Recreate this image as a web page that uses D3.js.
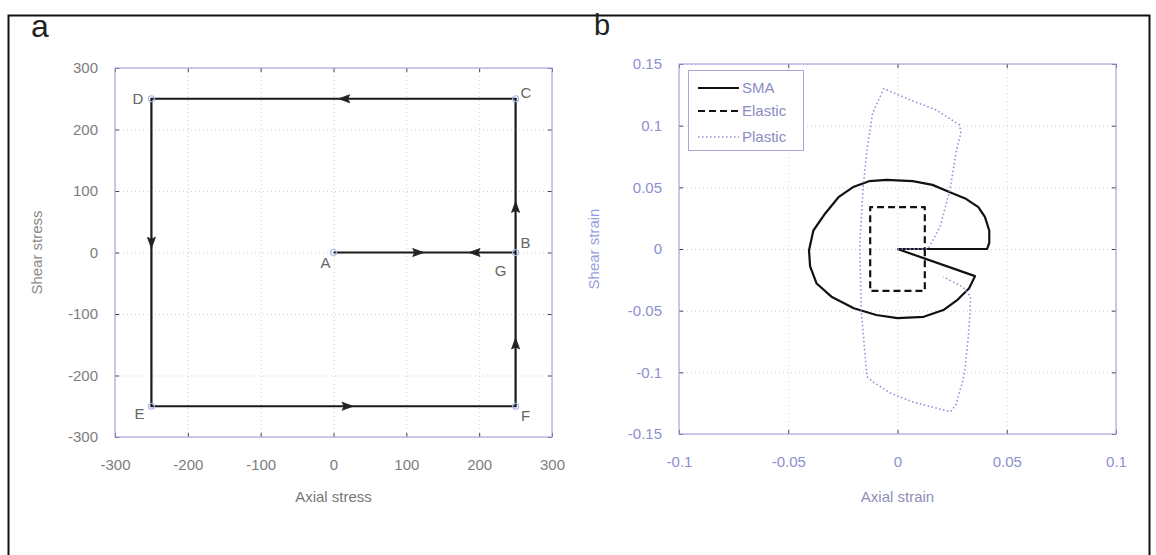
<!DOCTYPE html>
<html>
<head>
<meta charset="utf-8">
<script src="https://cdn.jsdelivr.net/npm/d3@7"></script>
<style>
body { margin: 0; background: #fff; }
text { font-family: "Liberation Sans", Arial, sans-serif; }
</style>
</head>
<body>
<div id="canvas"></div>
<script>
// ---- panel a: stress path ----
const stressTicks = [-300, -200, -100, 0, 100, 200, 300];
const pathNames = ["A", "B", "C", "D", "E", "F", "G", "A"];
const pathX = [0, 250, 250, -250, -250, 250, 250, 0];
const pathY = [0, 0, 250, 250, -250, -250, 0, 0];
// arrow heads along the path
const arrowX = [117, 193, 250, 14, -250, 20, 250];
const arrowY = [0, 0, 75, 250, 15, -250, -147];
const arrowDir = ["right", "left", "up", "left", "down", "right", "up"];

// ---- panel b: strain response ----
const strainXTicks = [-0.1, -0.05, 0, 0.05, 0.1];
const strainYTicks = [-0.15, -0.1, -0.05, 0, 0.05, 0.1, 0.15];
const seriesNames = ["SMA", "Elastic", "Plastic"];
const smaX = [0, 0.041, 0.042, 0.042, 0.040, 0.037, 0.031, 0.024, 0.016, 0.007, -0.005, -0.013, -0.020, -0.027, -0.033, -0.0385, -0.0405, -0.040, -0.037, -0.030, -0.020, -0.0097, 0, 0.012, 0.021, 0.0276, 0.0327, 0.0355, 0];
const smaY = [0, 0, 0.005, 0.015, 0.026, 0.034, 0.041, 0.046, 0.052, 0.055, 0.056, 0.055, 0.0505, 0.042, 0.029, 0.015, -0.001, -0.014, -0.028, -0.039, -0.048, -0.0535, -0.056, -0.055, -0.0495, -0.041, -0.032, -0.022, 0];
const elasticX = [0, 0.0125, 0.0125, -0.0125, -0.0125, 0.0125, 0.0125, 0];
const elasticY = [0, 0, 0.034, 0.034, -0.034, -0.034, 0, 0];
const plasticX = [0, 0.014, 0.0195, 0.024, 0.027, 0.029, 0.0284, 0.0174, 0.007, -0.0063, -0.0114, -0.014, -0.0157, -0.0173, -0.0165, -0.014, -0.0114, -0.003, 0.007, 0.0242, 0.0267, 0.030, 0.031, 0.0327, 0.0335, 0.030, 0.021];
const plasticY = [0, 0, 0.018, 0.048, 0.080, 0.094, 0.1006, 0.113, 0.120, 0.130, 0.110, 0.080, 0.0505, 0.002, -0.052, -0.1035, -0.1076, -0.117, -0.124, -0.132, -0.1265, -0.106, -0.0955, -0.0657, -0.0387, -0.031, -0.0225];

const width = 1156;
const height = 555;

const svg = d3.select("#canvas")
    .append("svg")
    .attr("width", width)
    .attr("height", height);

svg.append("rect")
    .attr("width", width)
    .attr("height", height)
    .attr("fill", "#fff");

// outer frame
svg.append("rect")
    .attr("x", 8.5)
    .attr("y", 15.5)
    .attr("width", 1141)
    .attr("height", 560)
    .attr("fill", "none")
    .attr("stroke", "#111")
    .attr("stroke-width", 2);

svg.append("text").attr("x", 31).attr("y", 37)
    .attr("font-size", 32).attr("fill", "#222").text("a");
svg.append("text").attr("x", 594).attr("y", 35)
    .attr("font-size", 29).attr("fill", "#222").text("b");

// draws a matlab-like box with grid, inner ticks and labels
function frame(x, y, xTicks, yTicks, tickColor, xLabel, yLabel, xLabColor, yLabColor, yLabX) {
    const [x0, x1] = x.range();
    const [y0, y1] = y.range();
    const g = svg.append("g");

    g.append("g")
        .attr("transform", `translate(0,${y0})`)
        .call(d3.axisBottom(x).tickValues(xTicks).tickSize(y1 - y0).tickFormat(""))
        .call(s => s.select(".domain").remove())
        .selectAll("line").attr("stroke", "#cfcfcf").attr("stroke-dasharray", "1,3");
    g.append("g")
        .attr("transform", `translate(${x0},0)`)
        .call(d3.axisLeft(y).tickValues(yTicks).tickSize(x0 - x1).tickFormat(""))
        .call(s => s.select(".domain").remove())
        .selectAll("line").attr("stroke", "#cfcfcf").attr("stroke-dasharray", "1,3");

    const ticks = [
        [d3.axisBottom(x).tickValues(xTicks), `translate(0,${y0})`],
        [d3.axisTop(x).tickValues(xTicks), `translate(0,${y1})`],
        [d3.axisLeft(y).tickValues(yTicks), `translate(${x0},0)`],
        [d3.axisRight(y).tickValues(yTicks), `translate(${x1},0)`]
    ];
    ticks.forEach(([ax, tr]) => {
        g.append("g").attr("transform", tr)
            .call(ax.tickSize(-4).tickFormat(""))
            .call(s => s.select(".domain").remove())
            .selectAll("line").attr("stroke", "#444");
    });

    g.append("rect")
        .attr("x", x0).attr("y", y1)
        .attr("width", x1 - x0).attr("height", y0 - y1)
        .attr("fill", "none")
        .attr("stroke", "#a7a7e4")
        .attr("stroke-width", 1.2);

    g.append("g")
        .attr("transform", `translate(0,${y0})`)
        .call(d3.axisBottom(x).tickValues(xTicks).tickSize(0).tickPadding(22).tickFormat(d => d))
        .call(s => s.select(".domain").remove())
        .selectAll("text")
        .attr("font-size", 15)
        .attr("fill", tickColor);
    g.append("g")
        .attr("transform", `translate(${x0},0)`)
        .call(d3.axisLeft(y).tickValues(yTicks).tickSize(0).tickPadding(17).tickFormat(d => d))
        .call(s => s.select(".domain").remove())
        .selectAll("text")
        .attr("font-size", 15)
        .attr("fill", tickColor);

    g.append("text")
        .attr("x", (x0 + x1) / 2).attr("y", 502)
        .attr("text-anchor", "middle")
        .attr("font-size", 15)
        .attr("fill", xLabColor).text(xLabel);
    g.append("text")
        .attr("transform", `translate(${yLabX},${(y0 + y1) / 2}) rotate(-90)`)
        .attr("text-anchor", "middle")
        .attr("font-size", 15)
        .attr("fill", yLabColor).text(yLabel);
}

// ---------- panel a ----------
const xa = d3.scaleLinear().domain([-300, 300]).range([115, 552]);
const ya = d3.scaleLinear().domain([-300, 300]).range([437, 68]);

frame(xa, ya, stressTicks, stressTicks, "#7d7d7d",
    "Axial stress", "Shear stress", "#777", "#8a8a8a", 42);

const stressPts = pathX.map((v, i) => [v, pathY[i]]);
svg.append("path")
    .datum(stressPts)
    .attr("d", d3.line().x(d => xa(d[0])).y(d => ya(d[1])))
    .attr("fill", "none")
    .attr("stroke", "#1a1a1a")
    .attr("stroke-width", 2.2);

const rot = { right: 0, down: 90, left: 180, up: -90 };
svg.selectAll(".arrow")
    .data(arrowX.map((v, i) => [v, arrowY[i], arrowDir[i]]))
    .join("path")
    .attr("class", "arrow")
    .attr("d", "M5,0 L-6,-4 L-4,0 L-6,4 Z")
    .attr("transform", d => `translate(${xa(d[0])},${ya(d[1])}) rotate(${rot[d[2]]})`)
    .attr("fill", "#222")
    .attr("stroke", "#222")
    .attr("stroke-width", 0.8);

// corner markers (A..F, G shares B)
const corners = pathNames.slice(0, 6);
svg.selectAll(".corner")
    .data(corners)
    .join("circle")
    .attr("class", "corner")
    .attr("cx", (d, i) => xa(pathX[i]))
    .attr("cy", (d, i) => ya(pathY[i]))
    .attr("r", 3)
    .attr("fill", "none")
    .attr("stroke", "#a9b4e6")
    .attr("stroke-width", 1.2);

// label offsets relative to their points
const labelOffset = {
    A: [-8, 15, "middle"], B: [10, -5, "middle"], C: [5, -1, "start"], D: [-8, 5, "end"],
    E: [-12, 13, "middle"], F: [10, 15, "middle"], G: [-15, 23, "middle"]
};
svg.selectAll(".ptlabel")
    .data(pathNames.slice(0, 7))
    .join("text")
    .attr("class", "ptlabel")
    .attr("x", (d, i) => xa(pathX[i]) + labelOffset[d][0])
    .attr("y", (d, i) => ya(pathY[i]) + labelOffset[d][1])
    .attr("text-anchor", d => labelOffset[d][2])
    .attr("font-size", 15)
    .attr("fill", "#666")
    .text(d => d);

// ---------- panel b ----------
const xb = d3.scaleLinear().domain([-0.1, 0.1]).range([679, 1116]);
const yb = d3.scaleLinear().domain([-0.15, 0.15]).range([434, 64]);

frame(xb, yb, strainXTicks, strainYTicks, "#8d8fd2",
    "Axial strain", "Shear strain", "#8e8fb8", "#9b9be0", 599);

const line = d3.line().x(d => xb(d[0])).y(d => yb(d[1]));
const series = [
    { pts: smaX.map((v, i) => [v, smaY[i]]), stroke: "#111", w: 2.2, dash: null },
    { pts: elasticX.map((v, i) => [v, elasticY[i]]), stroke: "#111", w: 2.2, dash: "7,4" },
    { pts: plasticX.map((v, i) => [v, plasticY[i]]), stroke: "#8f8fd8", w: 1.6, dash: "1.5,2.5" }
];
series.forEach(s => {
    svg.append("path")
        .datum(s.pts)
        .attr("d", line)
        .attr("fill", "none")
        .attr("stroke", s.stroke)
        .attr("stroke-width", s.w)
        .attr("stroke-dasharray", s.dash)
        .attr("stroke-linejoin", "round");
});

// legend
const legend = svg.append("g");
legend.append("rect")
    .attr("x", 688.5).attr("y", 70.5)
    .attr("width", 115).attr("height", 80)
    .attr("fill", "#fff")
    .attr("stroke", "#a7a7d8");
seriesNames.forEach((name, i) => {
    const ly = [88, 111, 137][i];
    legend.append("line")
        .attr("x1", 698).attr("x2", 739)
        .attr("y1", ly).attr("y2", ly)
        .attr("stroke", series[i].stroke)
        .attr("stroke-width", series[i].w)
        .attr("stroke-dasharray", series[i].dash);
    legend.append("text")
        .attr("x", 742).attr("y", ly + 5)
        .attr("font-size", 15)
        .attr("fill", "#8a8cc4")
        .text(name);
});
</script>
</body>
</html>
